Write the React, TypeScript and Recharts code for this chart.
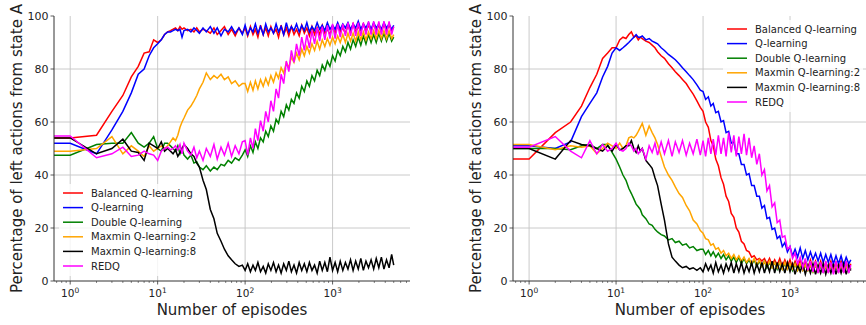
import React from "react";
import {
  LineChart,
  Line,
  XAxis,
  YAxis,
  ReferenceLine,
  Label,
} from "recharts";

// episode grid (first point = left edge of the log axis, where matplotlib clips episode 0)
const EPISODES = [
  0.653, 1, 2, 3, 4, 5, 6, 7, 8, 9, 10, 11, 12, 13, 14, 15, 16, 17, 18, 19, 20,
  22, 24, 26, 28, 30, 33, 36, 40, 44, 48, 53, 58, 64, 70, 77, 85, 93,
  100, 107, 115, 123, 131, 140, 150, 161, 172, 184, 197, 211, 226, 241, 258,
  276, 296, 316, 338, 362, 387, 415, 444, 475, 508, 543, 581, 622, 666, 712,
  762, 815, 872, 933, 999, 1069, 1143, 1223, 1309, 1401, 1499, 1604, 1716,
  1836, 1965, 2102, 2249, 2407, 2575, 2756, 2949, 3155, 3376, 3612, 3865,
  4136, 4425, 4735, 5000,
];

const SERIES = [
  "Balanced Q-learning",
  "Q-learning",
  "Double Q-learning",
  "Maxmin Q-learning:2",
  "Maxmin Q-learning:8",
  "REDQ",
];
const COLORS = ["#ff0000", "#0000ff", "#008000", "#ffa500", "#000000", "#ff00ff"];
const KEYS = ["bal", "q", "dq", "mm2", "mm8", "redq"];

// left panel
const L_BAL = [
  54, 54, 55, 64, 70, 77, 81, 86, 86.5, 91, 90, 91, 93, 94, 94.5, 95, 95.5, 94.5, 96, 95, 95.5,
  94.5, 95, 94, 95.5, 94, 95, 94.5, 93.5, 95.5, 93, 94.5, 96, 93, 95, 92.5, 95.5, 93.5,
  95.5, 92.5, 96, 93, 95, 92, 96.5, 93, 95.5, 92.5, 96, 93.5, 95, 92, 96.5, 93, 95.5, 92.5, 96, 93,
  95, 92.5, 96.5, 93.5, 95.5, 92.5, 96, 93, 95.5, 93, 96.5, 93.5, 95, 93, 96, 93.5, 96.5, 94, 95.5, 93.5,
  96.5, 94, 97, 94, 96, 94.5, 97, 94, 96.5, 94.5, 97, 94.5, 96.5, 94, 97, 94.5, 96.5, 94.5, 96,
];
const L_Q = [
  52, 52, 48, 57, 64, 71, 78, 80, 85, 88, 89.5, 91, 93, 94, 94, 94.5, 95, 94.5, 95, 92, 94.5,
  95, 94, 95.5, 94.5, 93.5, 95.5, 94, 96, 93.5, 95.5, 92.5, 95, 94, 96, 93.5, 95.5, 93,
  96.5, 93, 95.5, 94, 97, 93.5, 96, 93, 97, 94, 95.5, 93.5, 97, 94, 96, 93, 97.5, 94, 96, 94.5,
  97, 94, 96.5, 94.5, 97.5, 94, 96, 94.5, 97.5, 95, 96.5, 94.5, 97.5, 95, 96.5, 95, 97.5, 95, 97, 95.5,
  97.5, 95, 97, 95.5, 98, 95, 97, 95.5, 97.5, 95, 97.5, 95.5, 97, 95, 97.5, 95.5, 97, 95, 96.5,
];
const L_DQ = [
  47.5, 47.5, 51.5, 52, 52, 56, 52, 50.5, 52, 54.5, 50, 49, 52, 52, 51, 50, 49, 51, 48, 50, 47.5,
  46, 47.5, 44.5, 45, 43, 42, 43.5, 41.5, 43, 42, 44, 43.5, 45.5, 44.5, 46.5, 45.5, 47.5,
  49.5, 47, 51, 48.5, 52.5, 50, 54, 52.5, 56.5, 54.5, 58.5, 56.5, 61, 59.5, 64, 62, 66.5, 64.5, 68.5, 67,
  71, 69, 73.5, 71.5, 75.5, 73.5, 77.5, 75.5, 79.5, 77.5, 81.5, 79.5, 83, 81, 85, 83, 87, 85, 88.5, 86.5,
  90, 87.5, 91, 88.5, 92, 89, 92.5, 89.5, 93, 90, 93, 90, 93.5, 90.5, 93.5, 90.5, 93.5, 90.5, 92,
];
const L_MM2 = [
  49, 49, 50, 54.5, 48, 51, 49, 47, 51, 49, 50, 51, 50, 51, 52.5, 54, 53, 55, 58, 60, 61.5,
  64.5, 66, 68, 70, 72.5, 75, 78.5, 76, 77.5, 76.5, 78, 76, 77, 74.5, 75.5, 73.5, 74.5,
  74.5, 71.5, 75, 72, 75.5, 72.5, 76, 73.5, 76.5, 74, 77.5, 75, 78.5, 76.5, 80.5, 78.5, 82.5, 80.5, 84.5, 82.5,
  86, 83.5, 87.5, 85, 88.5, 86, 89.5, 87, 90.5, 87.5, 91, 88.5, 91.5, 89, 92, 89.5, 92.5, 90, 93, 90,
  93.5, 90.5, 93.5, 90.5, 94, 91, 94, 91, 94, 91.5, 94.5, 91.5, 94.5, 91.5, 94.5, 91.5, 94.5, 91.5, 93,
];
const L_MM8 = [
  54, 54, 48, 50, 53.5, 49, 48.5, 45.5, 52, 51, 50, 52.5, 49, 50, 49, 48, 49.5, 47, 48.5, 50, 51.5,
  50, 48, 47, 44.5, 43, 38, 34.5, 27, 23.5, 18, 15, 12, 9.5, 8, 6.5, 5.5, 6,
  4, 6.5, 3.5, 6, 4, 7, 3.5, 5.5, 3, 6.5, 4, 7, 3.5, 6, 3, 6.5, 4, 7.5, 3.5, 6,
  3, 7, 4, 6.5, 3.5, 7, 4, 6, 3, 7.5, 4, 7, 3.5, 9, 4, 7, 3.5, 7.5, 4, 7,
  4.5, 8, 4, 7.5, 4.5, 8.5, 4, 7.5, 5, 8, 4.5, 8.5, 5, 9, 4.5, 8, 5, 10, 6,
];
const L_REDQ = [
  54.7, 54.7, 46.5, 48, 50.5, 47, 47.5, 49, 48, 47.5, 45.5, 49, 50, 50.5, 49.5, 50, 51, 49.5, 51.5, 48, 52,
  49, 47.5, 50.5, 46.5, 49, 45.5, 50, 47, 51.5, 46, 50.5, 47.5, 52, 47, 51, 48, 52.5,
  53, 47.5, 54, 50, 57.5, 53, 60.5, 56.5, 64, 60, 68, 64, 72.5, 69, 78, 74.5, 83, 79, 87, 82.5,
  89.5, 85, 92, 87, 93, 88, 94.5, 89.5, 95.5, 90.5, 96, 91, 96.5, 91.5, 97, 91.5, 97, 92, 97, 92.5,
  97.5, 92.5, 97.5, 92.5, 97.5, 92.5, 97.5, 93, 98, 93, 98, 93, 98, 93, 98, 93, 98, 93, 96,
];

// right panel
const R_BAL = [
  46, 46, 56, 60, 66, 73, 78, 84, 86, 88, 88, 91, 92, 91.5, 93, 94, 92, 92.5, 91, 92, 91.5,
  90.5, 90, 89, 88, 86.5, 85, 84, 82, 80.5, 79, 77.5, 76, 74.5, 72.5, 70.5, 68, 65.5,
  64, 60, 58, 53, 51, 46, 43.5, 39, 36.5, 32, 30, 25.5, 24, 20, 18.5, 15, 14, 11.5, 11, 9,
  9.5, 8, 8.5, 7.5, 8.5, 6.5, 8.5, 6, 8, 6, 8.5, 5.5, 8, 5.5, 8, 5, 7.5, 5, 8, 4.5,
  7.5, 5, 8, 4.5, 7.5, 4.5, 7.5, 4, 7, 4.5, 7.5, 4, 7, 4.5, 7.5, 4, 7, 4.5, 6.5,
];
const R_Q = [
  51, 51, 50, 52.5, 62, 67, 71, 77, 81, 86, 88, 87, 88, 89, 90, 91, 92, 93, 92, 92, 92.5,
  91, 91.5, 90.5, 90, 89.5, 88, 87, 85.5, 84.5, 83.5, 82, 80.5, 79, 77.5, 76, 74, 72,
  71.5, 68.5, 69.5, 66, 67, 63.5, 64, 60, 60.5, 56, 56.5, 52, 52.5, 48, 48, 44, 44, 40, 40.5, 36,
  36, 32, 32, 27.5, 28.5, 23.5, 24, 19.5, 20, 16, 17, 13, 14.5, 11, 13, 9.5, 12, 9, 12.5, 8.5,
  11.5, 8, 11, 8, 10.5, 7.5, 10.5, 7, 10, 7, 10, 6.5, 9.5, 6.5, 9.5, 6, 9, 6.5, 8,
];
const R_DQ = [
  50, 50, 50, 49.5, 51, 51.5, 50, 51.5, 51.5, 48.5, 46, 43, 40, 38, 35, 33, 31, 29, 28, 27, 25,
  23.5, 21.5, 21, 19.5, 18.5, 17.5, 17, 15.5, 16, 14.5, 15, 13.5, 14, 12.5, 13, 11.5, 12,
  12, 10, 11.5, 9.5, 11, 9, 10.5, 8.5, 10, 8, 9.5, 7.5, 9, 7, 9, 6.5, 8.5, 6.5, 8, 6,
  8, 5.5, 7.5, 5.5, 7.5, 5, 7, 5, 7, 4.5, 7, 4.5, 6.5, 4.5, 6.5, 4, 6.5, 4, 6, 4,
  6, 4, 6, 3.5, 6, 3.5, 5.5, 3.5, 5.5, 3.5, 5.5, 3.5, 5.5, 3.5, 5.5, 3.5, 5.5, 3.5, 5,
];
const R_MM2 = [
  51.5, 51.5, 49.5, 51, 50.5, 51, 48, 50, 52, 51, 50, 52, 50, 51, 54, 54.5, 54, 55, 56.5, 58, 59.5,
  55, 58.5, 56, 54, 51.5, 47, 43, 40, 38, 35.5, 33, 31.5, 28.5, 26.5, 23, 21.5, 19,
  18, 16, 15.5, 13.5, 14, 12, 12.5, 10.5, 11.5, 9.5, 10.5, 8.5, 10, 8, 9.5, 7.5, 9, 7, 8.5, 6.5,
  8.5, 6, 8, 5.5, 7.5, 5.5, 7.5, 5, 7, 5, 7, 4.5, 7, 4.5, 6.5, 4.5, 6.5, 4, 6.5, 4,
  6, 4, 6, 3.5, 6, 3.5, 6, 3.5, 5.5, 3.5, 5.5, 3.5, 5.5, 3.5, 5.5, 3.5, 5.5, 3.5, 5,
];
const R_MM8 = [
  50, 50, 46, 53, 51.5, 51, 50, 49, 51, 49, 51.5, 49.5, 50, 51, 51, 53, 50, 48.5, 51, 49, 50,
  45.5, 44, 42.5, 39, 36, 29, 23, 14, 9, 7.5, 6, 5, 5.5, 4.5, 5, 4, 5,
  3.5, 6.5, 4, 6, 3, 7, 3.5, 6, 3, 6.5, 4, 7, 3, 6.5, 3.5, 7, 3, 6, 3.5, 7,
  3, 6.5, 3.5, 7, 3, 6.5, 3.5, 7.5, 3, 7, 3.5, 6.5, 3, 7, 3.5, 6.5, 2.5, 6, 3.5, 6.5,
  2.5, 6, 3, 6.5, 2.5, 6, 3, 6.5, 2.5, 6, 3, 6.5, 2.5, 6, 3, 6.5, 2.5, 6, 4,
];
const R_REDQ = [
  50.5, 50.5, 54.5, 49, 46.5, 53, 48, 51.5, 49, 50, 52, 49.5, 49, 50, 52, 51, 49, 50, 48, 49, 50,
  46, 51, 48.5, 52, 47.5, 52.5, 48, 53, 47, 52.5, 48.5, 53, 47.5, 52, 48, 53.5, 47.5,
  53, 47, 54, 48, 53.5, 47.5, 55, 48, 54, 47, 56, 48.5, 55, 47, 54.5, 48, 55.5, 47.5, 54, 46.5,
  51, 44, 48, 40, 42, 34, 36, 28, 29.5, 22, 23, 16.5, 17, 12, 13, 8.5, 10.5, 6.5, 9, 5,
  8.5, 4, 7.5, 3.5, 7.5, 3, 7, 3, 7.5, 3, 7, 2.5, 7.5, 3, 7, 3, 7.5, 3, 6,
];

const MAJOR_TICKS = [1, 10, 100, 1000];
const MINOR_TICKS = [
  0.7, 0.8, 0.9, 2, 3, 4, 5, 6, 7, 8, 9, 20, 30, 40, 50, 60, 70, 80, 90,
  200, 300, 400, 500, 600, 700, 800, 900, 2000, 3000, 4000, 5000, 6000, 7000,
];
const TICK_EXP: Record<number, string> = { 1: "0", 10: "1", 100: "2", 1000: "3" };
const Y_TICKS = [0, 20, 40, 60, 80, 100];
const Y_GRID = [20, 40, 60, 80];
const X_DOMAIN = [0.653, 7674];

const FONT = "DejaVu Sans";
const AXIS = "#333";
const GRID = "#c4c4c4";

const buildRows = (cols: number[][]) =>
  EPISODES.map((ep, i) => {
    const row: Record<string, number> = { ep };
    KEYS.forEach((k, j) => (row[k] = cols[j][i]));
    return row;
  });

const leftRows = buildRows([L_BAL, L_Q, L_DQ, L_MM2, L_MM8, L_REDQ]);
const rightRows = buildRows([R_BAL, R_Q, R_DQ, R_MM2, R_MM8, R_REDQ]);

const XTick = (props: any) => {
  const { x, y, payload } = props;
  const v = payload.value;
  const major = MAJOR_TICKS.includes(v);
  return (
    <g>
      <line x1={x} x2={x} y1={y} y2={y + (major ? 3.5 : 2)} stroke={AXIS} strokeWidth={major ? 0.8 : 0.6} />
      {major && (
        <text x={x} y={y + 15.5} textAnchor="middle" fontSize={10.5} fill="#222" fontFamily={FONT}>
          10
          <tspan dy={-4} fontSize={7.5}>
            {TICK_EXP[v]}
          </tspan>
        </text>
      )}
    </g>
  );
};

function LegendBox({ left, top }: { left: number; top: number }) {
  return (
    <svg
      width={140}
      height={92}
      style={{ position: "absolute", left, top, overflow: "visible" }}
    >
      <rect x={0} y={0} width={140} height={92} rx={3} fill="#fff" fillOpacity={0.8} />
      {SERIES.map((name, i) => (
        <g key={name}>
          <line x1={4} x2={24} y1={9 + i * 14.6} y2={9 + i * 14.6} stroke={COLORS[i]} strokeWidth={1.5} />
          <text x={32} y={9 + i * 14.6} dominantBaseline="central" fontSize={10} fill="#222" fontFamily={FONT}>
            {name}
          </text>
        </g>
      ))}
    </svg>
  );
}

function Panel({ rows, left, width, yAxisWidth, marginRight }: any) {
  return (
    <div style={{ position: "absolute", left, top: 0 }}>
      <LineChart
        width={width}
        height={325}
        data={rows}
        margin={{ top: 16, right: marginRight, left: 0, bottom: 0 }}
      >
        <XAxis
          dataKey="ep"
          type="number"
          scale="log"
          domain={X_DOMAIN}
          allowDataOverflow
          ticks={[...MINOR_TICKS, ...MAJOR_TICKS]}
          tick={<XTick />}
          tickLine={false}
          tickSize={0}
          tickMargin={0}
          interval={0}
          height={44}
          axisLine={{ stroke: AXIS, strokeWidth: 1 }}
        >
          <Label
            content={({ viewBox }: any) => (
              <text
                x={viewBox.x + viewBox.width / 2}
                y={viewBox.y + 34}
                textAnchor="middle"
                fontSize={15}
                fill="#222"
                fontFamily={FONT}
              >
                Number of episodes
              </text>
            )}
          />
        </XAxis>
        <XAxis
          xAxisId="top"
          orientation="top"
          dataKey="ep"
          type="number"
          scale="log"
          domain={X_DOMAIN}
          allowDataOverflow
          height={0}
          tick={false}
          tickLine={false}
          axisLine={{ stroke: AXIS, strokeWidth: 1 }}
        />
        <YAxis
          domain={[0, 100]}
          ticks={Y_TICKS}
          width={yAxisWidth}
          tickSize={3.5}
          tickMargin={2}
          tick={{ fontSize: 11, fill: "#222", fontFamily: FONT }}
          tickLine={{ stroke: AXIS, strokeWidth: 0.8 }}
          axisLine={{ stroke: AXIS, strokeWidth: 1 }}
        >
          <Label
            content={({ viewBox }: any) => {
              const cx = viewBox.x + viewBox.width - 37.5;
              const cy = viewBox.y + viewBox.height / 2;
              return (
                <text
                  x={cx}
                  y={cy}
                  transform={`rotate(-90, ${cx}, ${cy})`}
                  textAnchor="middle"
                  dominantBaseline="central"
                  fontSize={15}
                  fill="#222"
                  fontFamily={FONT}
                >
                  Percentage of left actions from state A
                </text>
              );
            }}
          />
        </YAxis>
        <YAxis
          yAxisId="right"
          orientation="right"
          domain={[0, 100]}
          width={0}
          tick={false}
          tickLine={false}
          axisLine={{ stroke: AXIS, strokeWidth: 1 }}
        />
        {MAJOR_TICKS.map((v) => (
          <ReferenceLine key={`gx${v}`} x={v} stroke={GRID} strokeWidth={0.9} />
        ))}
        {Y_GRID.map((v) => (
          <ReferenceLine key={`gy${v}`} y={v} stroke={GRID} strokeWidth={0.9} />
        ))}
        {KEYS.map((k, i) => (
          <Line
            key={k}
            dataKey={k}
            name={SERIES[i]}
            type="linear"
            stroke={COLORS[i]}
            strokeWidth={1.5}
            dot={false}
            isAnimationActive={false}
          />
        ))}
      </LineChart>
    </div>
  );
}

export default function App() {
  return (
    <div
      style={{
        position: "absolute",
        left: 0,
        top: 0,
        width: 866,
        height: 325,
        overflow: "hidden",
        background: "#fff",
        fontFamily: FONT,
      }}
    >
      <Panel rows={leftRows} left={0} width={420} yAxisWidth={54} marginRight={10} />
      <Panel rows={rightRows} left={433} width={434} yAxisWidth={80} marginRight={0} />
      <LegendBox left={59} top={184} />
      <LegendBox left={723} top={20} />
    </div>
  );
}
